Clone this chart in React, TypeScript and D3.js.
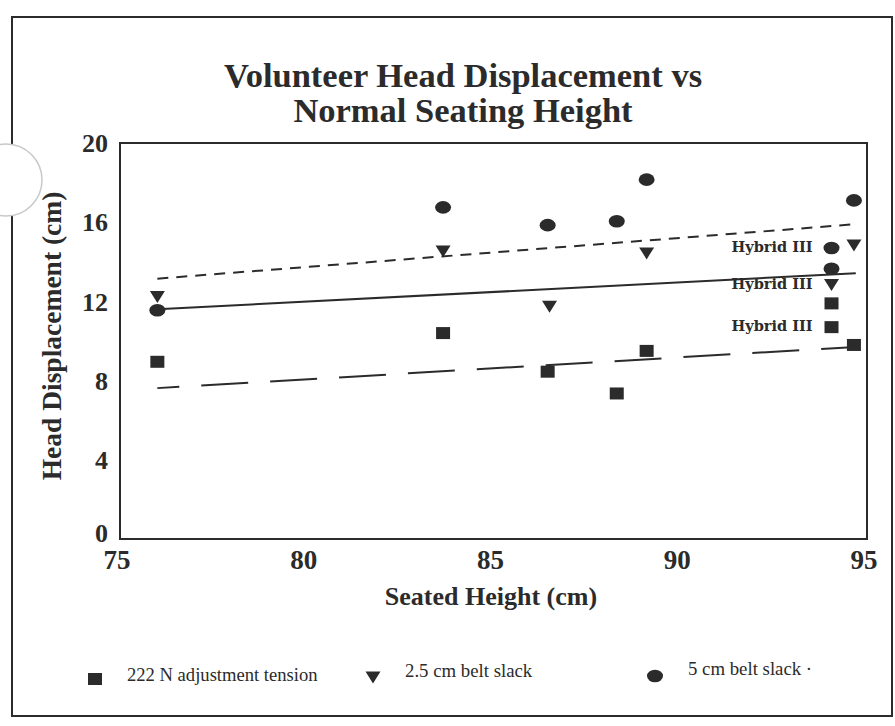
import React from "react";
import * as d3 from "d3";

// ---- data ----
const heights222 = [76, 83.65, 86.45, 88.3, 89.1, 94.05, 94.05, 94.65];
const disp222 = [8.95, 10.4, 8.45, 7.35, 9.5, 11.9, 10.7, 9.8];
const heights25 = [76, 83.65, 86.5, 89.1, 94.05, 94.65];
const disp25 = [12.25, 14.55, 11.75, 14.45, 12.85, 14.85];
const heights5 = [76, 83.65, 86.45, 88.3, 89.1, 94.05, 94.05, 94.65];
const disp5 = [11.55, 16.75, 15.85, 16.05, 18.15, 14.7, 13.65, 17.1];

const fitX = [76, 94.7];
const fitShortDash = [13.15, 15.9];
const fitSolid = [11.6, 13.42];
const fitLongDash = [7.62, 9.7];

const hybridHeight = 94.05;
const hybridValues = [14.7, 12.85, 10.7];
const hybridLabel = "Hybrid III";

const xTicks = [75, 80, 85, 90, 95];
const yTicks = [0, 4, 8, 12, 16, 20];

const titleLines = ["Volunteer Head Displacement vs", "Normal Seating Height"];
const xTitle = "Seated Height (cm)";
const yTitle = "Head Displacement (cm)";
const legendLabels = ["222 N adjustment tension", "2.5 cm belt slack", "5 cm belt slack ·"];

const W = 895;
const H = 726;
const INK = "#2b2b2b";
const SERIF = "'Liberation Serif', 'Times New Roman', serif";

export default function App() {
  const x = d3.scaleLinear().domain([75, 95]).range([120, 867]);
  const y = d3.scaleLinear().domain([0, 20]).range([539, 143]);

  const line = d3
    .line<[number, number]>()
    .x((d) => x(d[0]))
    .y((d) => y(d[1]));

  const fit = (vals: number[]) => line(fitX.map((v, i) => [v, vals[i]] as [number, number])) || "";

  const triPath = d3.line()([
    [-7.5, -5.5],
    [7.5, -5.5],
    [0, 6.5],
  ]) + "Z";

  const square = (cx: number, cy: number, key: string) => (
    <rect key={key} x={cx - 7} y={cy - 6} width={14} height={12} fill={INK} />
  );
  const triangle = (cx: number, cy: number, key: string) => (
    <path key={key} d={triPath} transform={`translate(${cx},${cy})`} fill={INK} />
  );
  const circle = (cx: number, cy: number, key: string) => (
    <ellipse key={key} cx={cx} cy={cy} rx={8} ry={6.3} fill={INK} />
  );

  return (
    <svg
      width={W}
      height={H}
      viewBox={`0 0 ${W} ${H}`}
      style={{ position: "absolute", left: 0, top: 0, background: "#fff" }}
    >
      <rect x={0} y={0} width={W} height={H} fill="#fff" />
      {/* outer frame */}
      <rect x={12} y={17} width={880} height={699} fill="none" stroke={INK} strokeWidth={2} />
      <circle cx={6} cy={180} r={36} fill="#fff" stroke="#c8c8c8" strokeWidth={1.5} />

      {/* title */}
      {titleLines.map((t, i) => (
        <text
          key={t}
          x={463}
          y={87 + i * 35}
          textAnchor="middle"
          fontFamily={SERIF}
          fontWeight="bold"
          fontSize={34.5}
          fill={INK}
        >
          {t}
        </text>
      ))}

      {/* plot frame */}
      <rect
        x={x(75)}
        y={y(20)}
        width={x(95) - x(75)}
        height={y(0) - y(20)}
        fill="none"
        stroke={INK}
        strokeWidth={2}
      />

      {/* y ticks */}
      {yTicks.map((v) => (
        <text
          key={v}
          x={108}
          y={y(v) - (v === 0 ? 6 : 0)}
          dy="0.35em"
          textAnchor="end"
          fontFamily={SERIF}
          fontWeight="bold"
          fontSize={26}
          fill={INK}
        >
          {v}
        </text>
      ))}
      {/* x ticks */}
      {xTicks.map((v) => (
        <text
          key={v}
          x={x(v) - 3}
          y={569}
          textAnchor="middle"
          fontFamily={SERIF}
          fontWeight="bold"
          fontSize={27}
          fill={INK}
        >
          {v}
        </text>
      ))}

      {/* axis titles */}
      <text
        x={491}
        y={605}
        textAnchor="middle"
        fontFamily={SERIF}
        fontWeight="bold"
        fontSize={26}
        fill={INK}
      >
        {xTitle}
      </text>
      <text
        transform={`translate(61,336) rotate(-90)`}
        textAnchor="middle"
        fontFamily={SERIF}
        fontWeight="bold"
        fontSize={27.5}
        fill={INK}
      >
        {yTitle}
      </text>

      {/* fit lines */}
      <path d={fit(fitShortDash)} fill="none" stroke={INK} strokeWidth={2} strokeDasharray="11,8" />
      <path d={fit(fitSolid)} fill="none" stroke={INK} strokeWidth={2} />
      <path
        d={fit(fitLongDash)}
        fill="none"
        stroke={INK}
        strokeWidth={2}
        strokeDasharray="47,22"
        strokeDashoffset={25}
      />

      {/* points */}
      {heights222.map((h, i) => square(x(h), y(disp222[i]), `s${i}`))}
      {heights25.map((h, i) => triangle(x(h), y(disp25[i]), `t${i}`))}
      {heights5.map((h, i) => circle(x(h), y(disp5[i]), `c${i}`))}

      {/* Hybrid III labels */}
      {hybridValues.map((v, i) => (
        <text
          key={i}
          x={x(hybridHeight) - 19}
          y={y(v) + 4}
          textAnchor="end"
          fontFamily="'DejaVu Serif', serif"
          fontWeight="bold"
          fontSize={14.5}
          fill={INK}
        >
          {hybridLabel}
        </text>
      ))}

      {/* legend */}
      {square(95, 679, "ls")}
      <text x={127} y={681} fontFamily={SERIF} fontSize={18.6} fill={INK}>
        {legendLabels[0]}
      </text>
      {triangle(373, 677, "lt")}
      <text x={405} y={677} fontFamily={SERIF} fontSize={18.8} fill={INK}>
        {legendLabels[1]}
      </text>
      {circle(655, 676, "lc")}
      <text x={688} y={675} fontFamily={SERIF} fontSize={18.8} fill={INK}>
        {legendLabels[2]}
      </text>
    </svg>
  );
}
